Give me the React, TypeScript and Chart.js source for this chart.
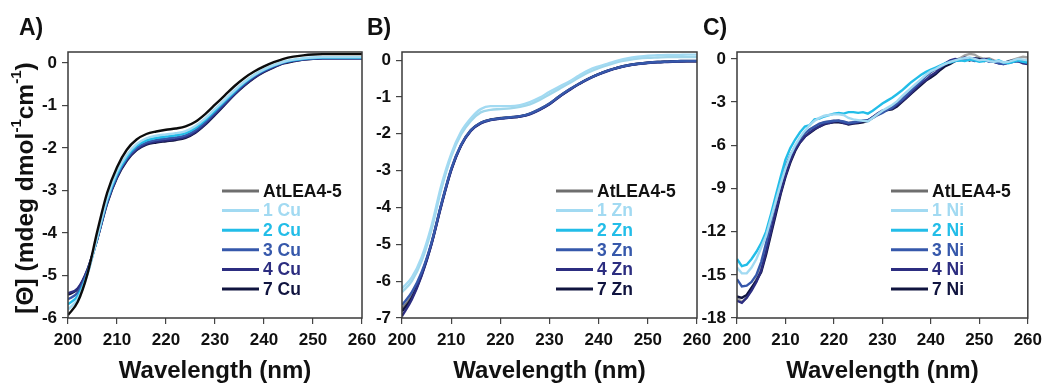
import React, { useEffect, useRef } from "react";
import { Chart, registerables } from "chart.js";

Chart.register(...registerables);

// ---------- data ----------
const wavelength2 = [200, 202, 204, 206, 208, 210, 212, 214, 216, 218, 220, 222, 224, 226, 228, 230, 232, 234, 236, 238, 240, 242, 244, 246, 248, 250, 252, 254, 256, 258, 260];
const wavelength1 = [
  200, 201, 202, 203, 204, 205, 206, 207, 208, 209,
  210, 211, 212, 213, 214, 215, 216, 217, 218, 219,
  220, 221, 222, 223, 224, 225, 226, 227, 228, 229,
  230, 231, 232, 233, 234, 235, 236, 237, 238, 239,
  240, 241, 242, 243, 244, 245, 246, 247, 248, 249,
  250, 251, 252, 253, 254, 255, 256, 257, 258, 259, 260,
];
const xTicks = [200, 210, 220, 230, 240, 250, 260];
const yTicksA = [0, -1, -2, -3, -4, -5, -6];
const yTicksB = [0, -1, -2, -3, -4, -5, -6, -7];
const yTicksC = [0, -3, -6, -9, -12, -15, -18];

// Panel A (Cu)
const cuAtLEA = [-5.93, -5.62, -4.95, -3.95, -3.05, -2.45, -2.04, -1.8, -1.67, -1.61, -1.57, -1.54, -1.49, -1.38, -1.2, -0.98, -0.76, -0.54, -0.35, -0.2, -0.08, 0.02, 0.1, 0.15, 0.18, 0.2, 0.21, 0.21, 0.21, 0.21, 0.21];
const cu1 = [-5.8, -5.55, -4.97, -4.08, -3.18, -2.56, -2.16, -1.91, -1.77, -1.71, -1.68, -1.65, -1.6, -1.48, -1.3, -1.08, -0.86, -0.64, -0.44, -0.28, -0.15, -0.05, 0.03, 0.08, 0.11, 0.13, 0.14, 0.14, 0.14, 0.14, 0.14];
const cu2 = [-5.68, -5.48, -4.94, -4.1, -3.22, -2.61, -2.21, -1.95, -1.82, -1.76, -1.73, -1.7, -1.65, -1.53, -1.34, -1.12, -0.89, -0.67, -0.46, -0.29, -0.16, -0.06, 0.02, 0.07, 0.1, 0.12, 0.13, 0.13, 0.13, 0.13, 0.13];
const cu3 = [-5.56, -5.4, -4.9, -4.12, -3.26, -2.65, -2.25, -2.0, -1.87, -1.81, -1.78, -1.75, -1.7, -1.58, -1.39, -1.16, -0.93, -0.7, -0.49, -0.31, -0.18, -0.07, 0.01, 0.06, 0.09, 0.11, 0.12, 0.12, 0.12, 0.12, 0.12];
const cu4 = [-5.42, -5.3, -4.85, -4.12, -3.28, -2.68, -2.28, -2.03, -1.9, -1.85, -1.82, -1.79, -1.74, -1.62, -1.43, -1.2, -0.97, -0.73, -0.52, -0.34, -0.2, -0.09, 0.0, 0.05, 0.08, 0.1, 0.11, 0.11, 0.11, 0.11, 0.11];
const cu7 = [-5.45, -5.32, -4.86, -4.13, -3.3, -2.7, -2.3, -2.05, -1.92, -1.87, -1.84, -1.81, -1.76, -1.64, -1.45, -1.22, -0.98, -0.74, -0.53, -0.35, -0.21, -0.1, -0.01, 0.04, 0.08, 0.1, 0.11, 0.11, 0.11, 0.11, 0.11];

// Panel B (Zn)
const znAtLEA = [-6.75, -6.4, -5.8, -4.97, -3.92, -2.97, -2.31, -1.9, -1.7, -1.61, -1.57, -1.55, -1.52, -1.45, -1.33, -1.18, -0.98, -0.8, -0.64, -0.5, -0.38, -0.28, -0.2, -0.14, -0.1, -0.07, -0.05, -0.04, -0.03, -0.02, -0.02];
const zn1 = [-6.2, -5.9, -5.35, -4.5, -3.4, -2.55, -1.95, -1.58, -1.33, -1.25, -1.25, -1.25, -1.22, -1.14, -1.02, -0.86, -0.72, -0.58, -0.42, -0.27, -0.17, -0.09, -0.01, 0.05, 0.09, 0.12, 0.13, 0.14, 0.14, 0.15, 0.15];
const zn2 = [-6.3, -6.0, -5.45, -4.6, -3.5, -2.62, -2.02, -1.65, -1.42, -1.35, -1.33, -1.31, -1.27, -1.2, -1.08, -0.93, -0.78, -0.63, -0.47, -0.33, -0.22, -0.13, -0.05, 0.0, 0.04, 0.06, 0.07, 0.08, 0.08, 0.08, 0.08];
const zn3 = [-6.65, -6.3, -5.75, -4.95, -3.9, -2.95, -2.3, -1.9, -1.7, -1.62, -1.58, -1.55, -1.52, -1.45, -1.33, -1.18, -0.98, -0.8, -0.64, -0.5, -0.38, -0.28, -0.2, -0.14, -0.1, -0.07, -0.05, -0.04, -0.03, -0.02, -0.02];
const zn4 = [-6.95, -6.5, -5.85, -5.0, -3.95, -3.0, -2.33, -1.92, -1.72, -1.63, -1.59, -1.56, -1.53, -1.47, -1.35, -1.2, -1.0, -0.82, -0.65, -0.51, -0.39, -0.29, -0.21, -0.15, -0.11, -0.08, -0.06, -0.05, -0.04, -0.03, -0.03];
const zn7 = [-6.82, -6.45, -5.82, -4.98, -3.93, -2.98, -2.32, -1.91, -1.71, -1.62, -1.58, -1.56, -1.53, -1.46, -1.34, -1.19, -0.99, -0.81, -0.65, -0.5, -0.38, -0.28, -0.2, -0.14, -0.1, -0.07, -0.05, -0.04, -0.03, -0.03, -0.03];

// Panel C (Ni)
const niAtLEA = [
  -16.6, -16.9, -16.6, -16.0, -15.3, -14.4, -13.2, -11.8, -10.4, -9.1,
  -7.9, -6.9, -6.1, -5.6, -5.2, -4.9, -4.7, -4.55, -4.4, -4.35,
  -4.3, -4.3, -4.4, -4.45, -4.4, -4.35, -4.35, -4.3, -4.1, -3.9,
  -3.7, -3.55, -3.35, -3.1, -2.75, -2.5, -2.2, -1.85, -1.5, -1.2,
  -0.9, -0.75, -0.55, -0.35, -0.2, -0.1, 0.05, 0.25, 0.35, 0.3,
  0.1, 0.0, 0.05, -0.1, -0.2, -0.3, -0.2, -0.05, 0.05, 0.15, 0.1,
];
const ni1 = [
  -14.5, -14.9, -14.9, -14.5, -13.9, -13.1, -12.3, -11.1, -9.9, -8.7,
  -7.6, -6.7, -6.0, -5.45, -5.0, -4.6, -4.3, -4.1, -3.95, -3.9,
  -3.85, -3.85, -3.9, -4.1, -4.2, -4.25, -4.3, -4.35, -4.1, -3.85,
  -3.6, -3.4, -3.2, -2.95, -2.6, -2.3, -2.0, -1.7, -1.4, -1.1,
  -0.85, -0.7, -0.5, -0.35, -0.2, -0.1, 0.0, 0.05, 0.1, 0.0,
  -0.1, -0.05, -0.15, -0.2, -0.15, -0.25, -0.2, -0.1, 0.0, -0.05, -0.1,
];
const ni2 = [
  -13.9, -14.4, -14.3, -13.9, -13.4, -12.8, -12.0, -10.8, -9.5, -8.2,
  -7.0, -6.2, -5.6, -5.1, -4.7, -4.6, -4.2, -4.15, -4.0, -3.9,
  -3.8, -3.75, -3.8, -3.7, -3.7, -3.75, -3.7, -3.8, -3.6, -3.35,
  -3.1, -2.9, -2.7, -2.45, -2.2, -1.9, -1.6, -1.35, -1.1, -0.9,
  -0.75, -0.6, -0.45, -0.3, -0.25, -0.15, -0.1, -0.15, -0.05, -0.1,
  -0.2, -0.15, -0.05, -0.2, -0.1, -0.25, -0.3, -0.2, -0.1, -0.2, -0.25,
];
const ni3 = [
  -15.3, -15.8, -15.75, -15.5, -15.0, -14.1, -12.8, -11.3, -9.9, -8.6,
  -7.45, -6.7, -6.1, -5.55, -5.15, -4.9, -4.7, -4.5, -4.4, -4.35,
  -4.3, -4.3, -4.35, -4.45, -4.4, -4.35, -4.3, -4.25, -4.1, -3.9,
  -3.75, -3.55, -3.4, -3.1, -2.85, -2.5, -2.15, -1.85, -1.55, -1.2,
  -0.9, -0.7, -0.55, -0.35, -0.15, -0.1, -0.1, -0.05, -0.05, -0.15,
  -0.1, -0.05, -0.2, -0.15, -0.3, -0.35, -0.25, -0.2, -0.15, -0.2, -0.25,
];
const ni4 = [
  -16.8, -16.95, -16.6, -16.1, -15.5, -14.7, -13.4, -12.0, -10.6, -9.3,
  -8.1, -7.1, -6.3, -5.8, -5.4, -5.1, -4.85, -4.7, -4.5, -4.45,
  -4.35, -4.3, -4.45, -4.5, -4.45, -4.4, -4.3, -4.3, -4.05, -3.8,
  -3.6, -3.5, -3.45, -3.2, -2.95, -2.65, -2.35, -2.0, -1.7, -1.45,
  -1.15, -0.95, -0.6, -0.3, -0.1, 0.0, -0.05, 0.1, 0.0, 0.05,
  -0.1, 0.0, -0.05, -0.2, -0.3, -0.35, -0.25, -0.2, -0.15, -0.3, -0.35,
];
const ni7 = [
  -16.5, -16.6, -16.4, -15.9, -15.4, -14.8, -13.6, -12.2, -10.8, -9.4,
  -8.2, -7.2, -6.4, -5.8, -5.4, -5.15, -4.9, -4.7, -4.55, -4.45,
  -4.4, -4.4, -4.45, -4.55, -4.5, -4.45, -4.4, -4.3, -4.05, -3.85,
  -3.65, -3.55, -3.5, -3.3, -3.0, -2.7, -2.4, -2.1, -1.8, -1.5,
  -1.3, -1.05, -0.75, -0.5, -0.35, -0.15, -0.05, 0.0, -0.1, 0.05,
  0.0, -0.15, -0.1, -0.2, -0.25, -0.3, -0.15, -0.1, -0.15, -0.2, -0.3,
];

const namesA = ["AtLEA4-5", "1 Cu", "2 Cu", "3 Cu", "4 Cu", "7 Cu"];
const namesB = ["AtLEA4-5", "1 Zn", "2 Zn", "3 Zn", "4 Zn", "7 Zn"];
const namesC = ["AtLEA4-5", "1 Ni", "2 Ni", "3 Ni", "4 Ni", "7 Ni"];

// ---------- styles ----------
const FONT = "'Liberation Sans', Arial, Helvetica, sans-serif";
const legendLineColors = ["#6e6e6e", "#a2daf2", "#22bde8", "#3658ab", "#2c2d80", "#10143f"];
const legendTextColors = ["#111111", "#a2daf2", "#22bde8", "#3658ab", "#2c2d80", "#10143f"];
const drawOrder = [10, 1, 2, 3, 4, 5];

const panels = [
  {
    label: "A)", labelX: 19, left: 68, right: 362, yMin: -6, yMax: 0.26, yTicks: yTicksA,
    x: wavelength2, series: [cuAtLEA, cu1, cu2, cu3, cu4, cu7], names: namesA, smooth: true,
    lineColors: ["#0c0c0c", "#a2daf2", "#22bde8", "#3658ab", "#2c2d80", "#10143f"],
    order: [0, 1, 2, 3, 4, 5], yTitle: true,
  },
  {
    label: "B)", labelX: 367, left: 402, right: 697, yMin: -7, yMax: 0.22, yTicks: yTicksB,
    x: wavelength2, series: [znAtLEA, zn1, zn2, zn3, zn4, zn7], names: namesB, smooth: true,
    lineColors: ["#7a7a7a", "#a2daf2", "#9fd6ea", "#3658ab", "#2c2d80", "#10143f"],
    order: drawOrder, yTitle: false,
  },
  {
    label: "C)", labelX: 703, left: 737, right: 1031, yMin: -18, yMax: 0.48, yTicks: yTicksC,
    x: wavelength1, series: [niAtLEA, ni1, ni2, ni3, ni4, ni7], names: namesC, smooth: false,
    lineColors: ["#a3a3a3", "#a2daf2", "#22bde8", "#3658ab", "#2c2d80", "#10143f"],
    order: drawOrder, yTitle: false,
  },
];

const W = 1048;
const H = 383;
const PLOT_TOP = 52;
const PLOT_BOTTOM = 318;
const YAXIS_W = 60;

const decoPlugin = {
  id: "deco",
  afterDraw(chart: any, _args: any, opts: any) {
    const { ctx, chartArea: ca } = chart;
    ctx.save();
    // frame
    ctx.strokeStyle = "#3a3a3a";
    ctx.lineWidth = 1.5;
    ctx.strokeRect(ca.left, ca.top, ca.right - ca.left, ca.bottom - ca.top);

    // legend
    ctx.font = `bold 17.5px ${FONT}`;
    ctx.textBaseline = "middle";
    ctx.textAlign = "left";
    opts.names.forEach((name: string, i: number) => {
      const y = 191 + i * 19.6;
      ctx.strokeStyle = legendLineColors[i];
      ctx.lineWidth = 3;
      ctx.beginPath();
      ctx.moveTo(ca.left + 154, y);
      ctx.lineTo(ca.left + 191, y);
      ctx.stroke();
      ctx.fillStyle = legendTextColors[i];
      ctx.fillText(name, ca.left + 195, y + 1);
    });

    // panel label
    ctx.fillStyle = "#111";
    ctx.font = `bold 23px ${FONT}`;
    ctx.textBaseline = "alphabetic";
    ctx.fillText(opts.label, opts.labelX, 35);

    // x title
    ctx.font = `bold 24px ${FONT}`;
    ctx.textAlign = "center";
    ctx.fillText("Wavelength (nm)", (ca.left + ca.right) / 2, 378);

    // y title
    if (opts.yTitle) {
      const mainFont = `bold 24.5px ${FONT}`;
      const supFont = `bold 15px ${FONT}`;
      const parts = [
        { t: "[Θ] (mdeg dmol", sup: false },
        { t: "-1", sup: true },
        { t: "cm", sup: false },
        { t: "-1", sup: true },
        { t: ")", sup: false },
      ];
      let total = 0;
      parts.forEach((p) => {
        ctx.font = p.sup ? supFont : mainFont;
        total += ctx.measureText(p.t).width;
      });
      ctx.translate(25, 188);
      ctx.rotate(-Math.PI / 2);
      ctx.textAlign = "left";
      ctx.textBaseline = "middle";
      let x = -total / 2;
      parts.forEach((p) => {
        ctx.font = p.sup ? supFont : mainFont;
        ctx.fillText(p.t, x, p.sup ? -8 : 1);
        x += ctx.measureText(p.t).width;
      });
    }
    ctx.restore();
  },
};

function Panel({ cfg }: { cfg: any }) {
  const ref = useRef<HTMLCanvasElement | null>(null);
  useEffect(() => {
    if (!ref.current) return;
    const datasets = cfg.series.map((arr: number[], i: number) => ({
      label: cfg.names[i],
      data: cfg.x.map((x: number, j: number) => ({ x, y: arr[j] })),
      borderColor: cfg.lineColors[i],
      backgroundColor: cfg.lineColors[i],
      borderWidth: 2.4,
      pointRadius: 0,
      fill: false,
      order: cfg.order[i],
      tension: 0,
      cubicInterpolationMode: cfg.smooth ? "monotone" : "default",
    }));
    const chart = new Chart(ref.current, {
      type: "line",
      data: { datasets },
      options: {
        animation: false,
        responsive: false,
        devicePixelRatio: 1,
        layout: {
          padding: { left: cfg.left - YAXIS_W, right: W - cfg.right, top: PLOT_TOP, bottom: 0 },
        },
        plugins: {
          legend: { display: false },
          tooltip: { enabled: false },
          deco: { label: cfg.label, labelX: cfg.labelX, names: cfg.names, yTitle: cfg.yTitle },
        } as any,
        scales: {
          x: {
            type: "linear",
            min: 200,
            max: 260,
            afterFit: (s: any) => { s.height = H - PLOT_BOTTOM; },
            afterBuildTicks: (s: any) => { s.ticks = xTicks.map((v) => ({ value: v })); },
            grid: { display: true, drawOnChartArea: false, drawTicks: true, tickLength: 6, color: "#444", lineWidth: 1.2 },
            border: { display: false },
            ticks: { color: "#111", font: { family: FONT, size: 17, weight: "bold" }, padding: 6, maxRotation: 0, autoSkip: false },
          },
          y: {
            type: "linear",
            min: cfg.yMin,
            max: cfg.yMax,
            afterFit: (s: any) => { s.width = YAXIS_W; },
            afterBuildTicks: (s: any) => { s.ticks = cfg.yTicks.map((v: number) => ({ value: v })); },
            grid: { display: true, drawOnChartArea: false, drawTicks: true, tickLength: 6, color: "#444", lineWidth: 1.2 },
            border: { display: false },
            ticks: { color: "#111", font: { family: FONT, size: 17, weight: "bold" }, padding: 5, autoSkip: false },
          },
        },
      } as any,
      plugins: [decoPlugin],
    });
    return () => chart.destroy();
  }, [cfg]);
  return (
    <canvas
      ref={ref}
      width={W}
      height={H}
      style={{ position: "absolute", left: 0, top: 0, width: W, height: H }}
    />
  );
}

export default function App() {
  return (
    <div style={{ position: "absolute", left: 0, top: 0, width: W, height: H, background: "#fff" }}>
      {panels.map((p) => (
        <Panel key={p.label} cfg={p} />
      ))}
    </div>
  );
}
